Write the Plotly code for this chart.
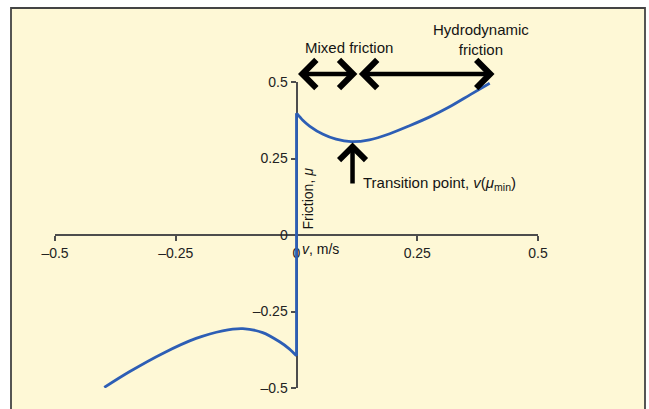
import plotly.graph_objects as go

# Data
pos_v = [0.0, 0.013, 0.027, 0.055, 0.082, 0.113, 0.151, 0.193, 0.234, 0.276, 0.317, 0.359, 0.40]
pos_mu = [0.398, 0.375, 0.356, 0.329, 0.313, 0.305, 0.311, 0.331, 0.357, 0.386, 0.419, 0.458, 0.496]
neg_v = [-0.398, -0.346, -0.277, -0.208, -0.153, -0.111, -0.070, -0.035, -0.015, 0.0]
neg_mu = [-0.498, -0.447, -0.387, -0.338, -0.313, -0.306, -0.319, -0.349, -0.372, -0.395]

tick_vals = [-0.5, -0.25, 0, 0.25, 0.5]
tick_text = ["\u20130.5", "\u20130.25", "0", "0.25", "0.5"]

mixed_range = [0.0, 0.126]
hydro_range = [0.126, 0.41]
transition_v = 0.116
transition_mu = 0.302

BLUE = "#2d5eb5"
FONT = "Liberation Sans, Arial, sans-serif"
TXT = "#141414"

fig = go.Figure()
fig.add_trace(go.Scatter(x=neg_v, y=neg_mu, mode="lines", line=dict(color=BLUE, width=2.8, shape="spline", smoothing=0.8), hoverinfo="skip"))
fig.add_trace(go.Scatter(x=[neg_v[-1], pos_v[0]], y=[neg_mu[-1], pos_mu[0]], mode="lines", line=dict(color=BLUE, width=2.8), hoverinfo="skip"))
fig.add_trace(go.Scatter(x=pos_v, y=pos_mu, mode="lines", line=dict(color=BLUE, width=2.8, shape="spline", smoothing=0.8), hoverinfo="skip"))

# plot area: x 55..538 px, y 82..388 px
L, R, T, B = 55, 111, 82, 21
W, H = 649 - L - R, 409 - T - B

def px(xp):
    return (xp - L) / W

def py(yp):
    return (409 - B - yp) / H

fig.add_shape(type="rect", xref="paper", yref="paper",
              x0=px(11), x1=px(645), y0=py(420), y1=py(8),
              fillcolor="#fef8d6", line=dict(color="#444444", width=1.8), layer="below")

axis_common = dict(range=[-0.5, 0.5], showgrid=False, zeroline=False, showline=True,
                   linecolor="#4d4d4d", linewidth=2, ticks="outside", ticklen=5,
                   tickwidth=1.6, tickcolor="#4d4d4d", tickvals=tick_vals, ticktext=tick_text,
                   tickfont=dict(family=FONT, size=14, color="#222222"),
                   anchor="free", position=0.5, layer="below traces", fixedrange=True)
fig.update_layout(
    width=649, height=409,
    margin=dict(l=L, r=R, t=T, b=B),
    paper_bgcolor="white", plot_bgcolor="rgba(0,0,0,0)",
    showlegend=False,
    xaxis=axis_common,
    yaxis=axis_common,
)

annotations = [
    dict(x=0.008, y=0, xref="x", yref="y", text="<i>v</i>, m/s", showarrow=False,
         xanchor="left", yanchor="top", yshift=-4, font=dict(family=FONT, size=14, color=TXT)),
    dict(x=0.0, y=0, xref="x", yref="y", text="Friction, <i>\u03bc</i>", showarrow=False,
         textangle=-90, xanchor="center", yanchor="bottom", xshift=11, yshift=3,
         font=dict(family=FONT, size=14, color=TXT)),
    dict(x=0.108, y=py(48), xref="x", yref="paper", text="Mixed friction", showarrow=False,
         xanchor="center", yanchor="middle", font=dict(family=FONT, size=15, color=TXT)),
    dict(x=0.383, y=py(39), xref="x", yref="paper", text="Hydrodynamic<br>friction", showarrow=False,
         xanchor="center", yanchor="middle", font=dict(family=FONT, size=15, color=TXT)),
    dict(x=0.134, y=py(183), xref="x", yref="paper",
         text="Transition point, <i>v</i>(<i>\u03bc</i><sub>min</sub>)", showarrow=False,
         xanchor="left", yanchor="middle", font=dict(family=FONT, size=15, color=TXT)),
    # double arrows
    dict(x=mixed_range[1], y=py(74), xref="x", yref="paper", ax=mixed_range[0], ay=0,
         axref="x", ayref="pixel", text="", showarrow=True, arrowhead=4, startarrowhead=4,
         arrowside="end+start", arrowwidth=4.5, arrowsize=1.2, startarrowsize=1.2, arrowcolor="black"),
    dict(x=hydro_range[1], y=py(74), xref="x", yref="paper", ax=hydro_range[0], ay=0,
         axref="x", ayref="pixel", text="", showarrow=True, arrowhead=4, startarrowhead=4,
         arrowside="end+start", arrowwidth=4.5, arrowsize=1.2, startarrowsize=1.2, arrowcolor="black"),
    # up arrow to transition point
    dict(x=transition_v, y=transition_mu, xref="x", yref="y", ax=transition_v, ay=0.163,
         axref="x", ayref="y", text="", showarrow=True, arrowhead=4, arrowwidth=4.5,
         arrowsize=1.15, arrowcolor="black"),
]
fig.update_layout(annotations=annotations)

fig.write_html("out.html")
